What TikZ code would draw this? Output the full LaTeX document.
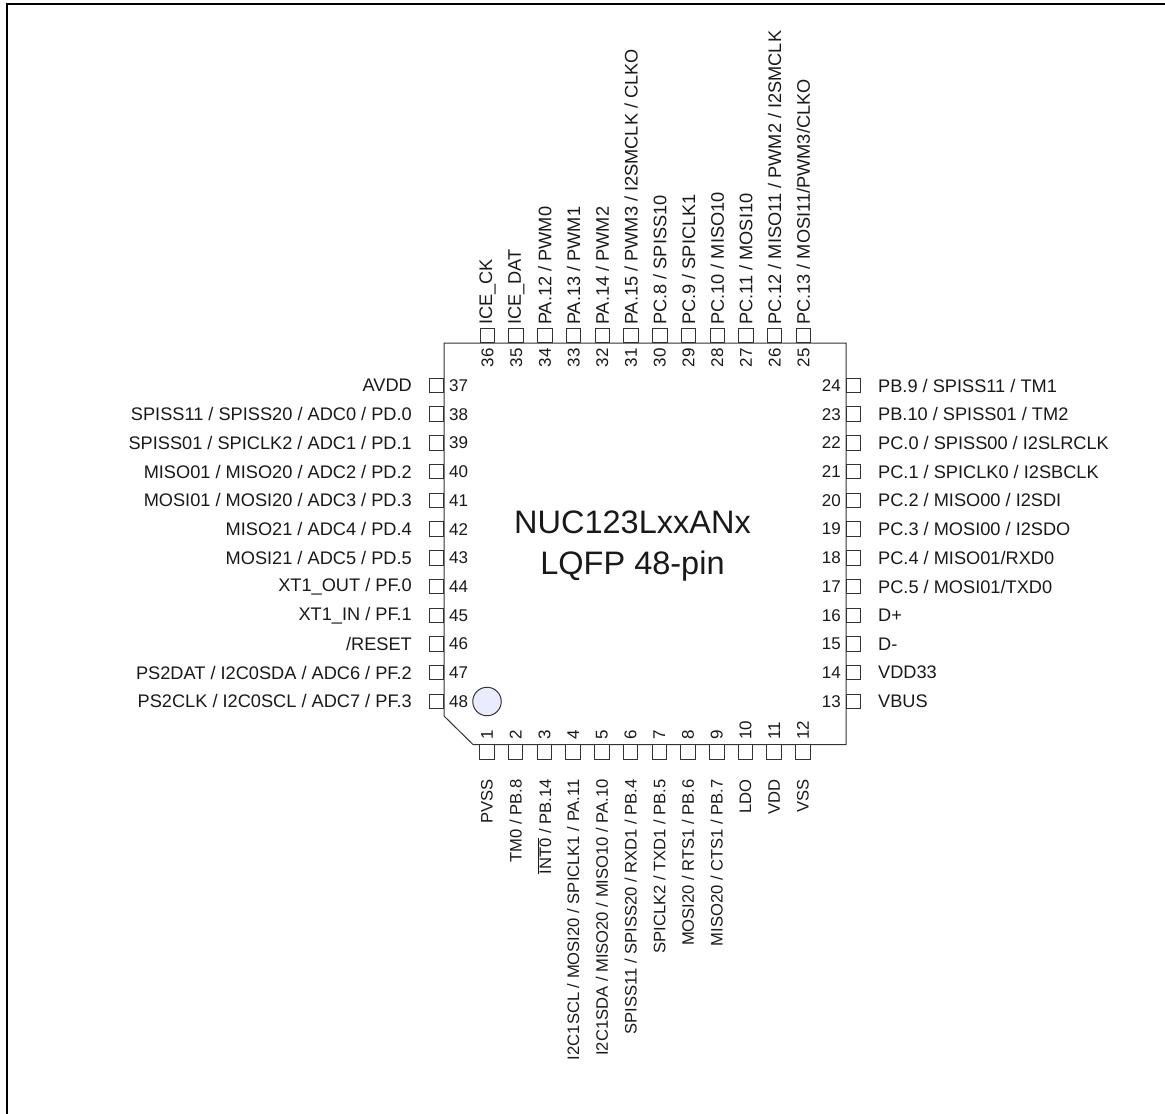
\documentclass[tikz,border=0pt]{standalone}
\usepackage{fontspec}
\setmainfont{Liberation Sans}
\newcommand{\pinfont}{\fontsize{18.2}{20}\selectfont}
\newcommand{\botfont}{\fontsize{16.6}{20}\selectfont}
\newcommand{\numfont}{\fontsize{17}{20}\selectfont}
\tikzset{
  x=1pt,y=-1pt,
  chipline/.style={draw=black!80,line width=1pt},
  pinbox/.style={draw=black!80,line width=1pt,fill=white,minimum size=14.5pt,inner sep=0pt,outer sep=0pt},
  txt/.style={font=\pinfont,inner sep=0pt,text=black!90},
  bottxt/.style={font=\botfont,inner sep=0pt,text=black!90},
  numtxt/.style={font=\numfont,inner sep=0pt,text=black!90},
}
\begin{document}
\begin{tikzpicture}
\useasboundingbox (0,0) rectangle (1165,1114);
\draw[line width=2pt,black] (7,1114) -- (7,4) -- (1165,4);
\coordinate (c1) at (444,343);
\coordinate (c2) at (846,343);
\coordinate (c3) at (846,744.5);
\coordinate (c4) at (473,744.5);
\coordinate (c5) at (444,716);
\draw[chipline] (c1) -- (c2) -- (c3) -- (c4) -- (c5) -- cycle;
\node[circle,draw=black!80,fill=blue!8!white,line width=1pt,minimum size=28.5pt,inner sep=0pt] (dot) at (487,701.5) {};
\foreach \n/\lab [count=\i from 0] in {37/{AVDD},38/{SPISS11 / SPISS20 / ADC0 / PD.0},39/{SPISS01 / SPICLK2 / ADC1 / PD.1},40/{MISO01 / MISO20 / ADC2 / PD.2},41/{MOSI01 / MOSI20 / ADC3 / PD.3},42/{MISO21 / ADC4 / PD.4},43/{MOSI21 / ADC5 / PD.5},44/{XT1\_OUT / PF.0},45/{XT1\_IN / PF.1},46/{/RESET},47/{PS2DAT / I2C0SDA / ADC6 / PF.2},48/{PS2CLK / I2C0SCL / ADC7 / PF.3}}{
  \pgfmathsetmacro{\yy}{385.5+28.72*\i}
  \node[pinbox] (p\n) at (436.7,\yy) {};
  \node[numtxt,anchor=west] (n\n) at (449,\yy) {\n};
  \node[txt,anchor=east] (l\n) at (412,\yy) {\lab};
}
\foreach \n/\lab [count=\i from 0] in {24/{PB.9 / SPISS11 / TM1},23/{PB.10 / SPISS01 / TM2},22/{PC.0 / SPISS00 / I2SLRCLK},21/{PC.1 / SPICLK0 / I2SBCLK},20/{PC.2 / MISO00 / I2SDI},19/{PC.3 / MOSI00 / I2SDO},18/{PC.4 / MISO01/RXD0},17/{PC.5 / MOSI01/TXD0},16/{D+},15/{D-},14/{VDD33},13/{VBUS}}{
  \pgfmathsetmacro{\yy}{385.5+28.72*\i}
  \node[pinbox] (p\n) at (853.3,\yy) {};
  \node[numtxt,anchor=east] (n\n) at (841,\yy) {\n};
  \node[txt,anchor=west] (l\n) at (878,\yy) {\lab};
}
\foreach \n/\lab [count=\i from 0] in {36/{ICE\_CK},35/{ICE\_DAT},34/{PA.12 / PWM0},33/{PA.13 / PWM1},32/{PA.14 / PWM2},31/{PA.15 / PWM3 / I2SMCLK / CLKO},30/{PC.8 / SPISS10},29/{PC.9 / SPICLK1},28/{PC.10 / MISO10},27/{PC.11 / MOSI10},26/{PC.12 / MISO11 / PWM2 / I2SMCLK},25/{PC.13 / MOSI11/PWM3/CLKO}}{
  \pgfmathsetmacro{\xx}{487.5+28.72*\i}
  \node[pinbox] (p\n) at (\xx,335.7) {};
  \node[numtxt,rotate=90,anchor=east] (n\n) at (\xx,348) {\n};
  \node[txt,rotate=90,anchor=west] (l\n) at (\xx,325) {\lab};
}
\foreach \n/\lab [count=\i from 0] in {1/{PVSS},2/{TM0 / PB.8},3/{$\overline{\mbox{INT0}}$ / PB.14},4/{I2C1SCL / MOSI20 / SPICLK1 / PA.11},5/{I2C1SDA / MISO20 / MISO10 / PA.10},6/{SPISS11 / SPISS20 / RXD1 / PB.4},7/{SPICLK2 / TXD1 / PB.5},8/{MOSI20 / RTS1 / PB.6},9/{MISO20 / CTS1 / PB.7},10/{LDO},11/{VDD},12/{VSS}}{
  \pgfmathsetmacro{\xx}{487+28.72*\i}
  \node[pinbox] (p\n) at (\xx,752) {};
  \node[numtxt,rotate=90,anchor=west] (n\n) at (\xx,740) {\n};
  \node[bottxt,rotate=90,anchor=east] (l\n) at (\xx,779) {\lab};
}
\node[font=\fontsize{32.5}{41}\selectfont,align=center,text=black!90] (title) at (632.5,546.5) {NUC123LxxANx\\LQFP 48-pin};
\end{tikzpicture}
\end{document}
